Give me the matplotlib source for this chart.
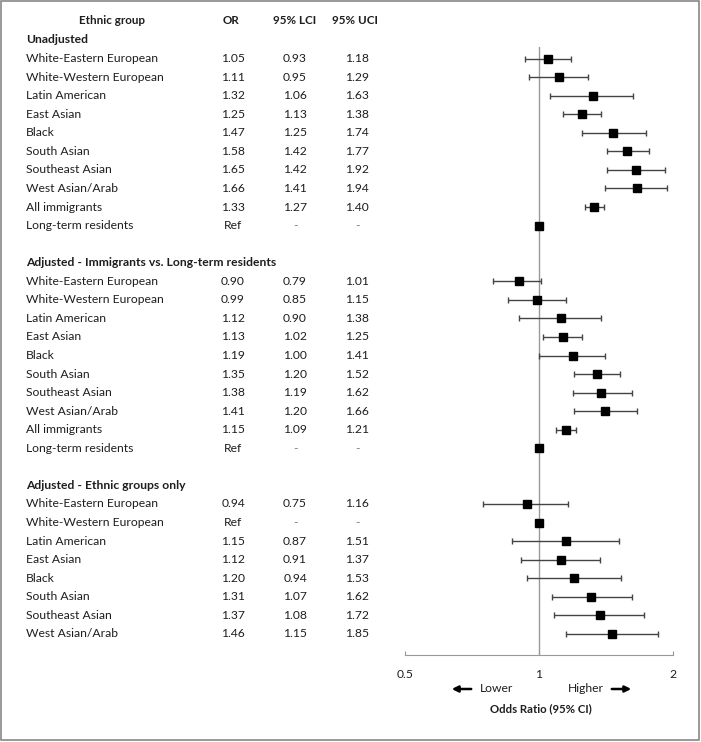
import numpy as np
import matplotlib.pyplot as plt
import matplotlib.transforms as mtransforms
from matplotlib.patches import Rectangle

plt.rcParams['font.family'] = ['Lato', 'DejaVu Sans']

# --- data ---
sec1_title = 'Unadjusted'
sec1_labels = ['White-Eastern European', 'White-Western European', 'Latin American', 'East Asian',
               'Black', 'South Asian', 'Southeast Asian', 'West Asian/Arab', 'All immigrants',
               'Long-term residents']
sec1_or = [1.05, 1.11, 1.32, 1.25, 1.47, 1.58, 1.65, 1.66, 1.33, None]
sec1_lci = [0.93, 0.95, 1.06, 1.13, 1.25, 1.42, 1.42, 1.41, 1.27, None]
sec1_uci = [1.18, 1.29, 1.63, 1.38, 1.74, 1.77, 1.92, 1.94, 1.40, None]

sec2_title = 'Adjusted - Immigrants vs. Long-term residents'
sec2_labels = sec1_labels
sec2_or = [0.90, 0.99, 1.12, 1.13, 1.19, 1.35, 1.38, 1.41, 1.15, None]
sec2_lci = [0.79, 0.85, 0.90, 1.02, 1.00, 1.20, 1.19, 1.20, 1.09, None]
sec2_uci = [1.01, 1.15, 1.38, 1.25, 1.41, 1.52, 1.62, 1.66, 1.21, None]

sec3_title = 'Adjusted - Ethnic groups only'
sec3_labels = ['White-Eastern European', 'White-Western European', 'Latin American', 'East Asian',
               'Black', 'South Asian', 'Southeast Asian', 'West Asian/Arab']
sec3_or = [0.94, None, 1.15, 1.12, 1.20, 1.31, 1.37, 1.46]
sec3_lci = [0.75, None, 0.87, 0.91, 0.94, 1.07, 1.08, 1.15]
sec3_uci = [1.16, None, 1.51, 1.37, 1.53, 1.62, 1.72, 1.85]

sections = [(sec1_title, sec1_labels, sec1_or, sec1_lci, sec1_uci),
            (sec2_title, sec2_labels, sec2_or, sec2_lci, sec2_uci),
            (sec3_title, sec3_labels, sec3_or, sec3_lci, sec3_uci)]

xticks = [0.5, 1, 2]

W, H = 701, 742
fig = plt.figure(figsize=(W / 100, H / 100), dpi=100)
# axes in pixel terms
ax_l, ax_r, ax_t, ax_b = 405, 673, 47, 655
ax = fig.add_axes([ax_l / W, 1 - ax_b / H, (ax_r - ax_l) / W, (ax_b - ax_t) / H])

row0_px, step_px = 40, 18.56
ax.set_xscale('log')
ax.set_xlim(0.5, 2)
ax.set_ylim((ax_b - row0_px) / step_px, (ax_t - row0_px) / step_px)

trans = mtransforms.blended_transform_factory(fig.transFigure, ax.transData)
fs = 8.7
txtc = '#1e1e1e'

row = 0
for title, labels, ors, lcis, ucis in sections:
    ax.text(26 / W, row, title, transform=trans, fontsize=fs, fontweight='bold',
            color=txtc, va='center', ha='left')
    row += 1
    for lab, o, lo, hi in zip(labels, ors, lcis, ucis):
        ax.text(26 / W, row, lab, transform=trans, fontsize=fs, color=txtc, va='center')
        if o is None:
            ax.text(233 / W, row, 'Ref', transform=trans, fontsize=fs, color=txtc, va='center', ha='center')
            ax.text(295 / W, row, '-', transform=trans, fontsize=fs, color='#777777', va='center', ha='center')
            ax.text(357 / W, row, '-', transform=trans, fontsize=fs, color='#777777', va='center', ha='center')
            ax.plot(1, row, 's', color='black', markersize=6.2, zorder=4)
        else:
            ax.text(233 / W, row, f'{o:.2f}', transform=trans, fontsize=fs, color=txtc, va='center', ha='center')
            ax.text(295 / W, row, f'{lo:.2f}', transform=trans, fontsize=fs, color=txtc, va='center', ha='center')
            ax.text(357 / W, row, f'{hi:.2f}', transform=trans, fontsize=fs, color=txtc, va='center', ha='center')
            ax.errorbar(o, row, xerr=[[o - lo], [hi - o]], fmt='s', color='black',
                        ecolor='#444444', elinewidth=1, capsize=2.5, capthick=1,
                        markersize=6.2, zorder=4)
        row += 1
    row += 1

# header
hy = (21 - row0_px) / step_px
for x, s in [(112, 'Ethnic group'), (231, 'OR'), (295, '95% LCI'), (355, '95% UCI')]:
    ax.text(x / W, hy, s, transform=trans, fontsize=8.4, fontweight='bold',
            color=txtc, va='center', ha='center')

ax.axvline(1, color='#999999', lw=1, zorder=1)

for s in ['top', 'right', 'left']:
    ax.spines[s].set_visible(False)
ax.spines['bottom'].set_color('#999999')
ax.set_yticks([])
ax.set_xticks(xticks)
ax.set_xticklabels(['0.5', '1', '2'])
ax.xaxis.set_minor_locator(plt.NullLocator())
ax.tick_params(axis='x', direction='in', length=3, color='#999999', labelsize=fs,
               labelcolor=txtc, pad=10)

# arrows and labels under the axis
ay = 1 - 689 / H
fig.text(480 / W, ay, 'Lower', fontsize=fs, color=txtc, va='center', ha='left')
fig.text(604 / W, ay, 'Higher', fontsize=fs, color=txtc, va='center', ha='right')
ax.annotate('', xy=(449 / W, ay), xytext=(474 / W, ay), xycoords='figure fraction',
            arrowprops=dict(arrowstyle='-|>', color='black', lw=1.8, mutation_scale=9))
ax.annotate('', xy=(634 / W, ay), xytext=(609 / W, ay), xycoords='figure fraction',
            arrowprops=dict(arrowstyle='-|>', color='black', lw=1.8, mutation_scale=9))
fig.text(541 / W, 1 - 709 / H, 'Odds Ratio (95% CI)', fontsize=8.2, fontweight='bold',
         color=txtc, va='center', ha='center')

# figure frame
fig.patches.append(Rectangle((1 / W, 2 / H), 698 / W, 739 / H, transform=fig.transFigure,
                             fill=False, edgecolor='#888888', lw=1.2))

fig.savefig('out.png', dpi=100)
